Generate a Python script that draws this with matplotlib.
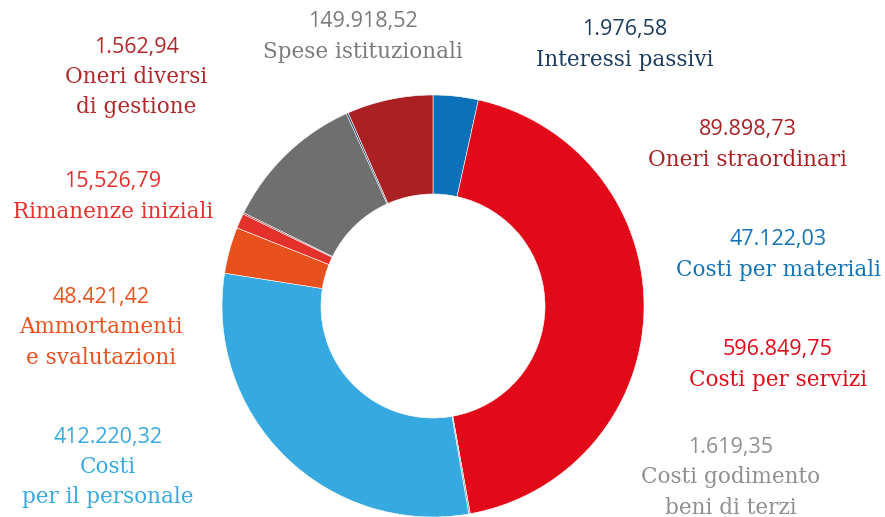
import matplotlib.pyplot as plt

# dati
voci = ['Costi per materiali', 'Costi per servizi', 'Costi godimento\nbeni di terzi',
        'Costi\nper il personale', 'Ammortamenti\ne svalutazioni', 'Rimanenze iniziali',
        'Oneri diversi\ndi gestione', 'Spese istituzionali', 'Interessi passivi',
        'Oneri straordinari']
valori = [47122.03, 596849.75, 1619.35, 412220.32, 48421.42, 15526.79,
          1562.94, 149918.52, 1976.58, 89898.73]
etichette_val = ['47.122,03', '596.849,75', '1.619,35', '412.220,32', '48.421,42',
                 '15,526,79', '1.562,94', '149.918,52', '1.976,58', '89.898,73']
colori = ['#0b72b9', '#e20a18', '#8c8c8c', '#36a9e0', '#e8501d',
          '#e4312c', '#a61d21', '#6f6f6f', '#1b3a5a', '#aa2023']
col_testo = ['#1273b7', '#e20a18', '#8f8f8f', '#36a9e0', '#e8501d',
             '#e4312c', '#b0282a', '#7a7a7a', '#1d3c5e', '#a82125']
# posizione etichette (x, y in pixel dall'alto)
pos = [(778, 240), (778, 350), (731, 447), (108, 437), (101, 297),
       (113, 182), (136, 47), (363, 22), (625, 30), (748, 130)]

W, H = 885, 517
fig = plt.figure(figsize=(W / 100, H / 100), dpi=100)
ax = fig.add_axes([0, 0, 1, 1])
ax.set_xlim(0, W)
ax.set_ylim(0, H)
ax.axis('off')

ax.pie(valori, colors=colori, startangle=90, counterclock=False,
       center=(433, H - 306), radius=211,
       wedgeprops=dict(width=99, edgecolor='white', linewidth=0.4))
ax.set_aspect('equal')
ax.set_xlim(0, W)
ax.set_ylim(0, H)

for nome, val, c, (x, y) in zip(voci, etichette_val, col_testo, pos):
    ax.text(x, H - y, val, color=c, ha='center', va='center',
            fontsize=15.5, family='Open Sans')
    ax.text(x, H - y - 19, nome, color=c, ha='center', va='top',
            fontsize=15.5, family='DejaVu Serif', linespacing=1.5)

fig.savefig('out.png', dpi=100)
